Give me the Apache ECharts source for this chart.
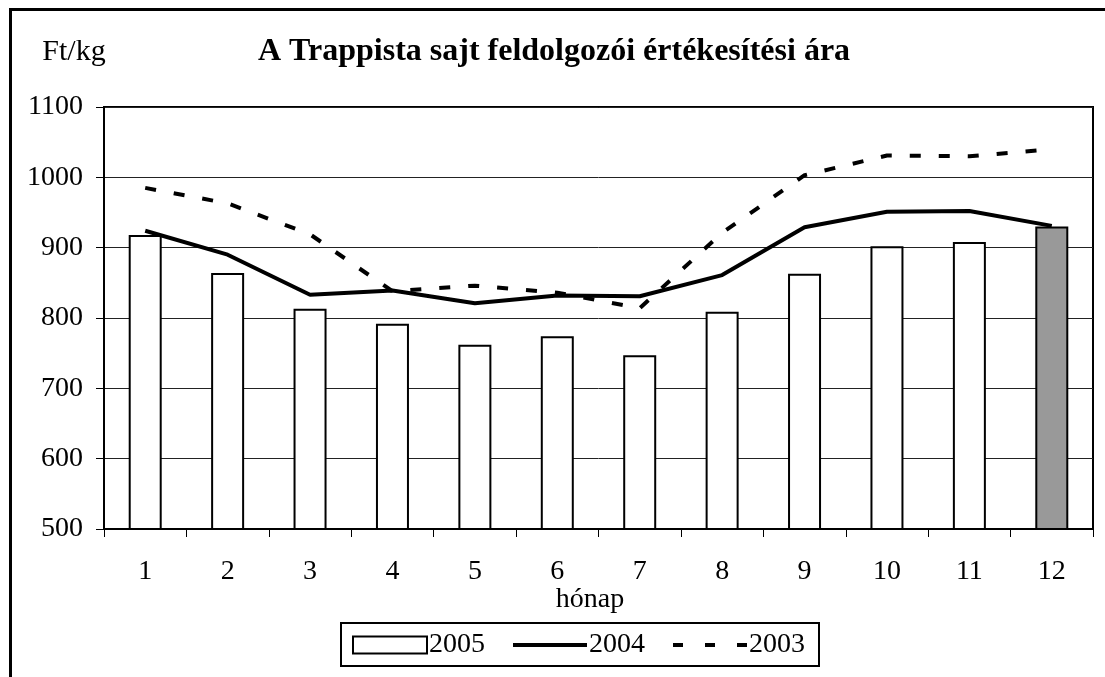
<!DOCTYPE html>
<html>
<head>
<meta charset="utf-8">
<title>Trappista sajt</title>
<script src="https://cdn.jsdelivr.net/npm/echarts@6/dist/echarts.min.js"></script>
<style>
  html, body { margin: 0; padding: 0; background: #fff; }
  #chart { width: 1105px; height: 677px; }
</style>
</head>
<body>
<div id="chart"></div>
<script>
// adatok
const months = ['1', '2', '3', '4', '5', '6', '7', '8', '9', '10', '11', '12'];
const y2005 = [918, 864, 813, 792, 762, 774, 747, 809, 863, 902, 908, 930];
const y2004 = [924, 890, 833, 839, 821, 832, 831, 861, 929, 951, 952, 931];
const y2003 = [985, 963, 919, 838, 846, 836, 814, 921, 1003, 1031, 1030, 1040];
const yTicks = [500, 600, 700, 800, 900, 1000, 1100];

const font = 'Liberation Serif, Times New Roman, serif';
const chart = echarts.init(document.getElementById('chart'));

// az utolsó (12.) hónap szürke
const barData = y2005.map((v, i) => i === 11
  ? { value: v, itemStyle: { color: '#999999' } }
  : v);

const option = {
  animation: false,
  backgroundColor: '#fff',
  textStyle: { fontFamily: font, color: '#000' },
  title: {
    text: 'A Trappista sajt feldolgozói értékesítési ára',
    left: 549, top: 31, textAlign: 'center',
    textStyle: { fontFamily: font, fontSize: 32, fontWeight: 'bold', color: '#000' }
  },
  grid: {
    left: 104, right: 12, top: 107, bottom: 148,
    show: true, borderColor: '#000', borderWidth: 2, backgroundColor: 'transparent'
  },
  legend: {
    left: 341, top: 623,
    itemWidth: 74, itemHeight: 17, itemGap: 26,
    padding: [8, 14, 7, 11],
    borderColor: '#000', borderWidth: 2, borderRadius: 0,
    textStyle: { fontFamily: font, fontSize: 28, color: '#000', padding: [0, 0, 0, -3] },
    data: [
      { name: '2005', icon: 'rect' },
      { name: '2004', itemStyle: { opacity: 0 }, lineStyle: { width: 4 } },
      { name: '2003', itemStyle: { opacity: 0 }, lineStyle: { width: 4, type: [10, 22] } }
    ]
  },
  xAxis: {
    type: 'category',
    data: months,
    boundaryGap: true,
    axisLine: { lineStyle: { color: '#000', width: 2 } },
    axisTick: { show: true, length: 8, lineStyle: { color: '#000', width: 1 } },
    axisLabel: { fontFamily: font, fontSize: 28, color: '#000', margin: 29 }
  },
  yAxis: {
    type: 'value',
    min: yTicks[0], max: yTicks[yTicks.length - 1], interval: 100,
    axisLine: { show: true, lineStyle: { color: '#000', width: 2 } },
    axisTick: { show: true, length: 8, lineStyle: { color: '#000', width: 1 } },
    axisLabel: { fontFamily: font, fontSize: 28, color: '#000', margin: 21, formatter: v => String(v) },
    splitLine: { lineStyle: { color: '#222', width: 1 } }
  },
  graphic: [
    {
      type: 'rect', left: 8, top: 7, z: 100, silent: true,
      shape: { width: 1110, height: 700 },
      style: { fill: 'none', stroke: '#000', lineWidth: 3 }
    },
    {
      type: 'text', x: 74, y: 52, z: 100,
      style: { text: 'Ft/kg', font: '30px ' + font, fill: '#000', textAlign: 'center', textVerticalAlign: 'middle' }
    },
    {
      type: 'text', x: 590, y: 600, z: 100,
      style: { text: 'hónap', font: '28px ' + font, fill: '#000', textAlign: 'center', textVerticalAlign: 'middle' }
    }
  ],
  series: [
    {
      name: '2005',
      type: 'bar',
      data: barData,
      barWidth: 33,
      itemStyle: { color: '#fff', borderColor: '#000', borderWidth: 2 },
      z: 2
    },
    {
      name: '2004',
      type: 'line',
      data: y2004,
      symbol: 'none',
      lineStyle: { color: '#000', width: 4 },
      itemStyle: { color: '#000' },
      z: 3
    },
    {
      name: '2003',
      type: 'line',
      data: y2003,
      symbol: 'none',
      lineStyle: { color: '#000', width: 4, type: [11, 18] },
      itemStyle: { color: '#000' },
      z: 3
    }
  ]
};

chart.setOption(option);
</script>
</body>
</html>
